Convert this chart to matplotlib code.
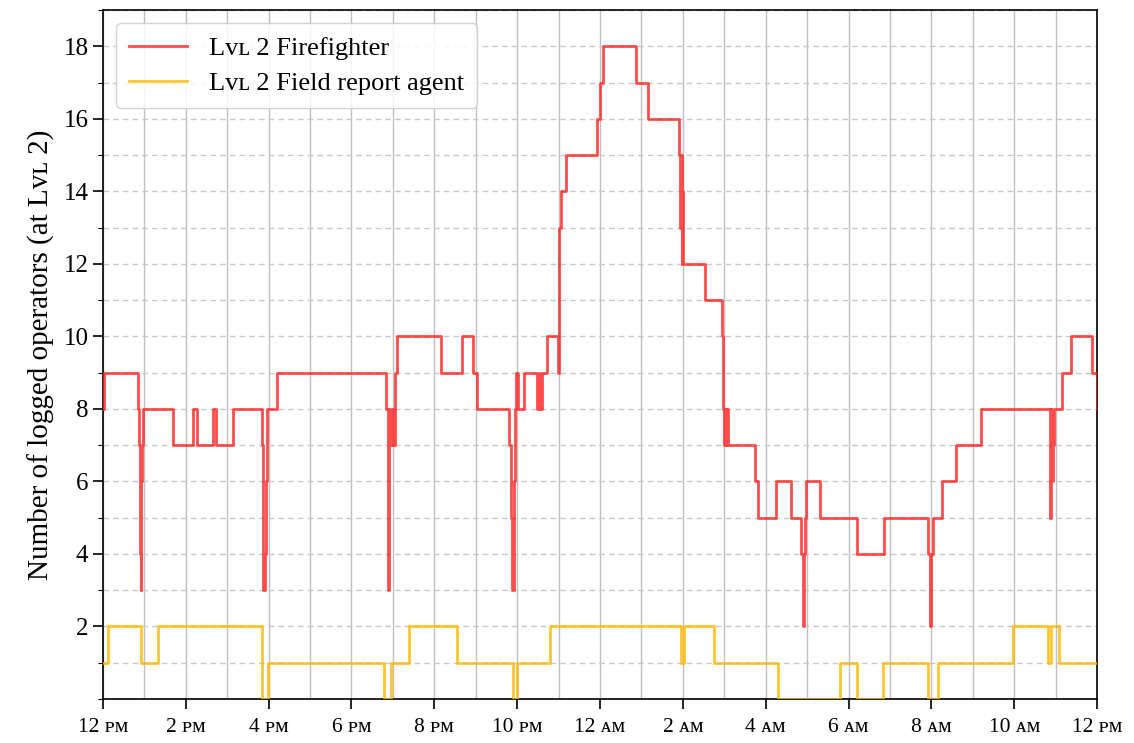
import matplotlib
matplotlib.use("Agg")
import matplotlib.pyplot as plt
from matplotlib.ticker import MultipleLocator, FixedLocator

plt.rcParams["font.family"] = ["Liberation Serif", "DejaVu Serif", "DejaVu Sans"]

# Hours elapsed since 12 PM, with the head count that starts at each moment
firefighter_hours = [
    0.00, 0.02, 0.84, 0.87, 0.89, 0.91, 0.93, 0.95, 0.97, 1.70, 2.18, 2.26,
    2.65, 2.74, 3.15, 3.83, 3.86, 3.87, 3.90, 3.93, 3.95, 3.97, 4.19, 6.83,
    6.87, 6.90, 6.93, 6.97, 7.01, 7.04, 7.09, 8.16, 8.68, 8.93, 9.02, 9.81,
    9.85, 9.88, 9.92, 9.94, 9.97, 10.01, 10.16, 10.49, 10.52, 10.55, 10.60,
    10.71, 10.98, 11.00, 11.02, 11.05, 11.19, 11.93, 12.01, 12.08, 12.88,
    13.16, 13.91, 13.93, 13.95, 13.97, 13.99, 14.01, 14.53, 14.95, 14.97,
    14.99, 15.01, 15.04, 15.06, 15.09, 15.74, 15.82, 16.26, 16.62, 16.85,
    16.89, 16.92, 16.95, 16.97, 17.30, 18.20, 18.86, 19.93, 19.96, 19.99,
    20.05, 20.25, 20.59, 21.21, 22.86, 22.89, 22.91, 22.94, 22.97, 23.16,
    23.36, 23.89, 23.99, 24.00,
]
firefighter_count = [
    8, 9, 8, 7, 4, 3, 6, 7, 8, 7, 8, 7,
    8, 7, 8, 7, 5, 3, 4, 6, 7, 8, 9, 8,
    3, 8, 7, 8, 7, 9, 10, 9, 10, 9, 8, 7,
    5, 3, 6, 8, 9, 8, 9, 8, 9, 8, 9,
    10, 9, 11, 13, 14, 15, 16, 17, 18, 17,
    16, 15, 13, 15, 12, 14, 12, 11, 10, 8,
    7, 8, 7, 8, 7, 6, 5, 6, 5, 4,
    2, 4, 5, 6, 5, 4, 5, 4, 2, 4,
    5, 6, 7, 8, 5, 8, 6, 7, 8, 9,
    10, 9, 8, 8,
]

field_agent_hours = [
    0.00, 0.13, 0.93, 1.34, 3.83, 3.99, 6.79, 6.95, 7.40, 8.54, 9.91, 10.00,
    10.79, 13.96, 14.04, 14.76, 16.30, 17.80, 18.21, 18.83, 19.92, 20.16,
    21.97, 22.82, 22.90, 23.08, 24.00,
]
field_agent_count = [
    1, 2, 1, 2, 0, 1, 0, 1, 2, 1, 0, 1,
    2, 1, 2, 1, 0, 1, 0, 1, 0, 1,
    2, 1, 2, 1, 1,
]

series_labels = ["Lᴠʟ 2 Firefighter", "Lᴠʟ 2 Field report agent"]
hour_ticks = [0, 2, 4, 6, 8, 10, 12, 14, 16, 18, 20, 22, 24]
hour_tick_labels = [
    "12 ᴘᴍ", "2 ᴘᴍ", "4 ᴘᴍ", "6 ᴘᴍ", "8 ᴘᴍ", "10 ᴘᴍ", "12 ᴀᴍ",
    "2 ᴀᴍ", "4 ᴀᴍ", "6 ᴀᴍ", "8 ᴀᴍ", "10 ᴀᴍ", "12 ᴘᴍ",
]

fig = plt.figure(figsize=(11.34, 7.43), dpi=100)
ax = fig.add_axes([0.0908, 0.0592, 0.8766, 0.9273])

ax.step(firefighter_hours, firefighter_count, where="post",
        color="#ff2020", alpha=0.8, lw=2.0, label=series_labels[0], zorder=3)
ax.step(field_agent_hours, field_agent_count, where="post",
        color="#ffb800", alpha=0.8, lw=2.0, label=series_labels[1], zorder=3)

ax.set_xlim(0, 24)
ax.set_ylim(0, 19)

ax.xaxis.set_major_locator(FixedLocator(hour_ticks))
ax.set_xticklabels(hour_tick_labels)
ax.xaxis.set_minor_locator(MultipleLocator(1))
ax.yaxis.set_major_locator(FixedLocator([2, 4, 6, 8, 10, 12, 14, 16, 18]))
ax.yaxis.set_minor_locator(MultipleLocator(1))

ax.tick_params(axis="x", which="major", length=7, width=1.2, labelsize=15.5, pad=7)
ax.tick_params(axis="x", which="minor", length=0)
ax.tick_params(axis="y", which="major", length=7, width=1.2, labelsize=18)
ax.tick_params(axis="y", which="minor", length=3.5, width=0.8)

ax.grid(axis="x", which="both", color="#c0c0c0", lw=1.0, ls="-", zorder=0)
ax.grid(axis="y", which="both", color="#c8c8c8", lw=1.0, ls=(0, (4, 3)), zorder=0)
ax.set_axisbelow(True)

for side in ax.spines.values():
    side.set_linewidth(1.2)

ax.set_ylabel("Number of logged operators (at Lᴠʟ 2)", fontsize=21, labelpad=6)

leg = ax.legend(loc="upper left", fontsize=19, handlelength=2.2,
                borderpad=0.5, labelspacing=0.45, framealpha=0.85,
                edgecolor="#cccccc", fancybox=True)

fig.savefig("out.png", dpi=100)
